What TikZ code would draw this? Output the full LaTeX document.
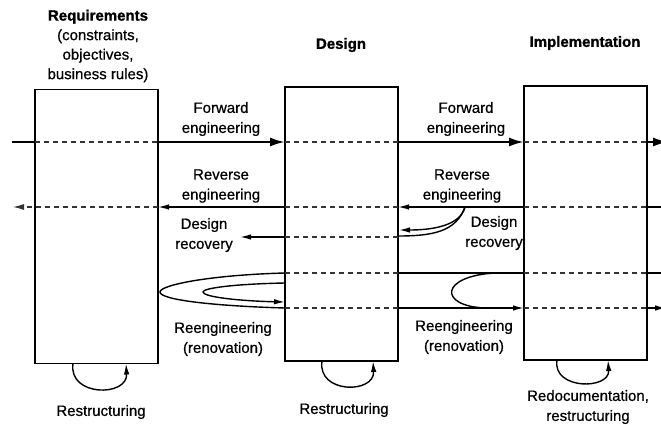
\documentclass[tikz,border=0pt]{standalone}
\usepackage{fontspec}
\setmainfont{Liberation Sans}[FakeBold=0.6,BoldFeatures={FakeBold=1.2}]
\usetikzlibrary{arrows.meta}

\tikzset{
  stage/.style={draw,line width=1.4pt,minimum width=#1,minimum height=274pt,inner sep=0pt,outer sep=0pt},
  guide/.style={line width=1.2pt,dash pattern=on 5pt off 4pt,black!80},
  flow/.style={line width=2.3pt,-{Latex[length=15pt,width=9pt]}},
  back/.style={line width=1.4pt,-{Latex[length=11pt,width=5.5pt]}},
  link/.style={line width=1.4pt},
  loopline/.style={line width=1.4pt},
  txt/.style={font=\fontsize{15}{20}\selectfont,align=center,inner sep=0pt},
  heading/.style={font=\bfseries\fontsize{15}{19.5}\selectfont,align=center,inner sep=0pt}
}

\begin{document}
\begin{tikzpicture}[x=1pt,y=-1pt]
\useasboundingbox[fill=white] (0,0) rectangle (661,425);

% the three stages
\node[stage=123pt] (req) at (96.5,226.5) {};
\node[stage=113pt] (des) at (341.5,224) {};
\node[stage=123pt] (imp) at (585.5,223) {};

% stage titles
\node[heading] (treq) at (98,46) {Requirements\\\mdseries(constraints,\\\mdseries objectives,\\\mdseries business rules)};
\node[heading] (tdes) at (341,45) {Design};
\node[heading] (timp) at (585,43) {Implementation};

% levels of the horizontal flows
\coordinate (yF) at (0,142);
\coordinate (yR) at (0,207);
\coordinate (yD) at (0,237);
\coordinate (yU) at (0,273);
\coordinate (yL) at (0,308);

% free ends at the page borders
\coordinate (inF) at (12,142);
\coordinate (outF) at (668,142);
\coordinate (outR) at (13,207);
\coordinate (edgeR) at (661,207);
\coordinate (edgeU) at (661,273);
\coordinate (outL) at (666,308);

% forward engineering
\draw[line width=2.5pt] (inF) -- (req.west |- yF);
\draw[guide] (req.west |- yF) -- (req.east |- yF);
\draw[flow] (req.east |- yF) -- (des.west |- yF);
\draw[guide] (des.west |- yF) -- (des.east |- yF);
\draw[flow] (des.east |- yF) -- (imp.west |- yF);
\draw[guide] (imp.west |- yF) -- (imp.east |- yF);
\draw[flow] (imp.east |- yF) -- (outF);

% reverse engineering
\draw[guide,-{Latex[length=11pt,width=6pt]}] (req.east |- yR) -- (outR);
\draw[back] (des.west |- yR) -- (req.east |- yR);
\draw[guide] (des.west |- yR) -- (des.east |- yR);
\draw[back] (imp.west |- yR) -- (des.east |- yR);
\draw[guide] (imp.west |- yR) -- (imp.east |- yR);
\draw[link] (imp.east |- yR) -- (edgeR);

% design recovery
\coordinate (split) at (465,207);
\coordinate (recA) at (399,230);
\coordinate (recB) at (398,236);
\draw[back] (split) .. controls (460,226) and (432,230) .. (recA);
\draw[loopline] (split) .. controls (456,232) and (432,236) .. (recB);
\draw[guide] (des.west |- yD) -- (des.east |- yD);
\draw[back] (des.west |- yD) -- (240,237);

% reengineering (renovation)
\draw[guide] (des.west |- yU) -- (des.east |- yU);
\draw[link] (des.east |- yU) -- (imp.west |- yU);
\draw[guide] (imp.west |- yU) -- (imp.east |- yU);
\draw[link] (imp.east |- yU) -- (edgeU);
\draw[guide] (des.west |- yL) -- (des.east |- yL);
\draw[back] (des.east |- yL) -- (imp.west |- yL);
\draw[guide] (imp.west |- yL) -- (imp.east |- yL);
\draw[back] (imp.east |- yL) -- (outL);

% loop between design and implementation
\draw[loopline] (495,273) .. controls (440,276) and (438,306) .. (485,308);

% loops between requirements and design
\draw[loopline] (des.west |- yU) .. controls (210,275) and (160,285) .. (160,292)
  .. controls (160,300) and (215,306) .. (des.west |- yL);
\draw[back] (des.west |- 0,283) .. controls (235,284) and (203,288) .. (203,292)
  .. controls (203,297) and (240,301) .. (des.west |- 0,302);

% restructuring loops under each stage
\draw[back] (req.south -| 73,0) .. controls (68,397) and (128,397) .. (req.south -| 126,0);
\draw[back] (des.south -| 322,0) .. controls (317,394) and (375,394) .. (des.south -| 373,0);
\draw[back] (imp.south -| 557,0) .. controls (552,390) and (610,390) .. (imp.south -| 608,0);

% flow labels
\node[txt] (fw1) at (221,119) {Forward\\engineering};
\node[txt] (fw2) at (466,119) {Forward\\engineering};
\node[txt] (rv1) at (221,186) {Reverse\\engineering};
\node[txt] (rv2) at (462,186) {Reverse\\engineering};
\node[txt] (dr1) at (204,235) {Design\\recovery};
\node[txt] (dr2) at (494,233) {Design\\recovery};
\node[txt] (re1) at (223,339) {Reengineering\\(renovation)};
\node[txt] (re2) at (464,337) {Reengineering\\(renovation)};
\node[txt] (rs1) at (101,412) {Restructuring};
\node[txt] (rs2) at (344,410) {Restructuring};
\node[txt] (rs3) at (588,407) {Redocumentation,\\restructuring};
\end{tikzpicture}
\end{document}
